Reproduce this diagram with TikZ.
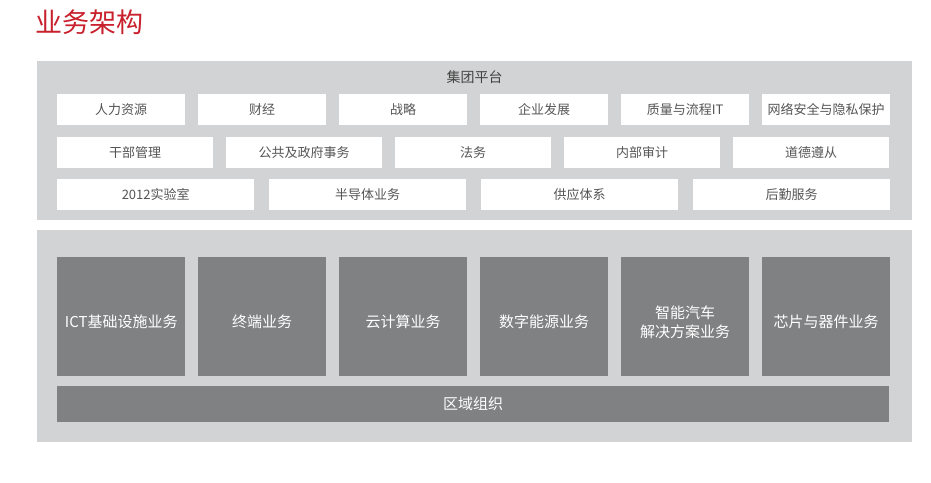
\documentclass[tikz,border=0pt]{standalone}
\usepackage{fontspec}
\setmainfont{Noto Sans CJK SC}
\newfontfamily\cjk{Noto Sans CJK SC}
\definecolor{panelgray}{RGB}{209,211,212}
\definecolor{darkbox}{RGB}{128,129,131}
\definecolor{textgray}{RGB}{85,85,85}
\definecolor{titlered}{RGB}{200,32,44}
\begin{document}
\begin{tikzpicture}[x=1pt,y=-1pt,
  panel/.style={fill=panelgray,draw=none},
  wbox/.style={fill=white,draw=none,inner sep=0pt,text=textgray,font=\cjk\fontsize{13}{15}\selectfont},
  dbox/.style={fill=darkbox,draw=none,inner sep=0pt},
  dtext/.style={inner sep=0pt,text=white,font=\cjk\fontsize{15}{19}\selectfont,align=center}]
\useasboundingbox (0,0) rectangle (931,482);
\node[anchor=west,text=titlered,font=\cjk\fontsize{27}{30}\selectfont,inner sep=0pt] (title) at (35,22) {业务架构};
\fill[panel] (37,61) rectangle (912,220);
\fill[panel] (37,230) rectangle (912,442);
\node[text=textgray!80!black,font=\cjk\fontsize{14}{16}\selectfont] (grp) at (474.5,77.5) {集团平台};
% row 1
\foreach \i/\t in {0/人力资源,1/财经,2/战略,3/企业发展,4/质量与流程IT,5/网络安全与隐私保护}{
  \node[wbox,minimum width=128,minimum height=31,anchor=north west] (r1\i) at ({57+141*\i},94) {\t};
}
% row 2
\foreach \i/\t in {0/干部管理,1/公共及政府事务,2/法务,3/内部审计,4/道德遵从}{
  \node[wbox,minimum width=156,minimum height=31,anchor=north west] (r2\i) at ({57+169*\i},137) {\t};
}
% row 3
\foreach \i/\t in {0/2012实验室,1/半导体业务,2/供应体系,3/后勤服务}{
  \node[wbox,minimum width=197,minimum height=31,anchor=north west] (r3\i) at ({57+212*\i},179) {\t};
}
% business boxes
\foreach \i/\t in {0/ICT基础设施业务,1/终端业务,2/云计算业务,3/数字能源业务,4/{智能汽车\\解决方案业务},5/芯片与器件业务}{
  \node[dbox,minimum width=128,minimum height=119,anchor=north west] (b\i) at ({57+141*\i},257) {};
  \node[dtext] (bt\i) at ([yshift=-5.5pt]b\i.center) {\t};
}
\node[dbox,minimum width=832,minimum height=36,anchor=north west] (region) at (57,386) {};
\node[dtext] (regiontext) at (region.center) {区域组织};
\end{tikzpicture}
\end{document}
